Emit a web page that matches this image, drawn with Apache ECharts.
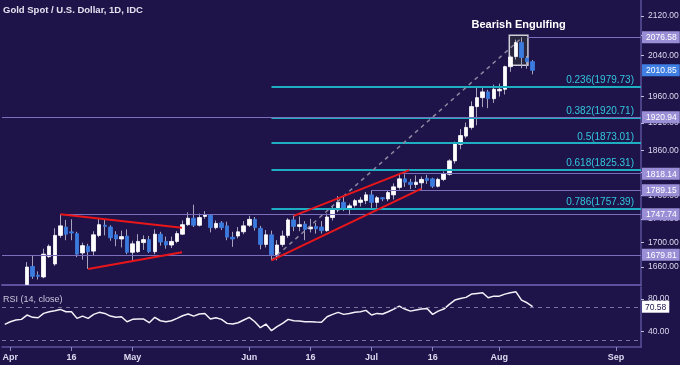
<!DOCTYPE html>
<html>
<head>
<meta charset="utf-8">
<script src="https://cdn.jsdelivr.net/npm/echarts@6/dist/echarts.min.js"></script>
<style>html,body{margin:0;padding:0;background:#1f1449;}#c{width:680px;height:365px;}</style>
</head>
<body>
<div id="c"></div>
<script>
// ---------- data ----------
const tradingDays = [];
for (let t = Date.UTC(2020, 2, 31); t <= Date.UTC(2020, 8, 7); t += 86400000) {
  const d = new Date(t), w = d.getUTCDay();
  if (w !== 0 && w !== 6) tradingDays.push(d.toISOString().slice(0, 10));
}
const xTickDates = ['2020-04-01','2020-04-16','2020-05-01','2020-06-01','2020-06-16','2020-07-01','2020-07-16','2020-08-03','2020-09-01'];
const xTickLabels = ['Apr','16','May','Jun','16','Jul','16','Aug','Sep'];

const openP = [null,null,null,null,
 1632,1661,1647,1644,1677,1665,1712,1726,1718,1715,
 1683,1694,1686,1712,1729,1726,1713,1706,1711,1684,
 1685,1700,1705,1685,1714,1702,1696,1702,1714,1730,
 1741,1729,1744,1746,1725,1733,1728,1709,1711,1718,
 1729,1739,1724,1697,1713,1678,1697,1712,1738,1727,
 1731,1723,1727,1726,1720,1742,1755,1768,1758,1763,
 1768,1771,1781,1768,1776,1774,1781,1794,1809,1803,
 1799,1802,1810,1809,1796,1808,1817,1841,1871,1886,
 1902,1941,1958,1969,1956,1971,1974,2018,2038,2066,
 2035,2028];
const highP = [null,null,null,null,
 1668,1678,1653,1690,1697,1724,1748,1738,1739,1718,
 1700,1698,1719,1740,1738,1729,1719,1720,1722,1703,
 1714,1712,1711,1722,1718,1710,1710,1719,1737,1751,
 1764,1749,1753,1748,1737,1736,1735,1718,1726,1736,
 1745,1743,1728,1721,1720,1704,1720,1741,1745,1744,
 1736,1740,1733,1736,1749,1761,1779,1779,1766,1774,
 1777,1786,1789.15,1779,1777,1789,1801,1818.14,1817,1809,
 1815,1813,1816,1811,1811,1822,1844,1876,1899,1911,
 1951,1980,1980,1973,1983,1985,2020,2040,2072,2076.58,
 2039,2031];
const lowP = [null,null,null,null,
 1631.5,1641,1640,1642,1675,1662,1708,1704,1704,1676,
 1672,1657,1679,1709,1712,1703,1694,1692,1681,1669,
 1683,1688,1683,1681,1695,1690,1691,1699,1713,1728,
 1726,1727,1740,1717,1722,1721,1704,1693,1707,1714,
 1726,1720,1689,1692,1670.89,1671,1693,1708,1719,1719,
 1704,1717,1715,1715,1718,1737,1751,1753,1746,1759,
 1761,1765,1757,1759,1770,1770,1773,1790,1795,1791,
 1793,1789,1800,1793,1794,1805,1815,1836,1862,1882,
 1898,1906,1940,1938,1948,1960,1964,2008,2032,2015,
 2014,2003];
const closeP = [null,null,null,null,
 1660,1645,1645,1681,1694,1712,1728,1714,1716,1681,
 1695,1685,1713,1730,1727,1708,1706,1710,1684,1698,
 1702,1705,1685,1714,1701,1696,1702,1715,1730,1741,
 1729,1742,1747,1725,1732,1725,1709,1706,1718,1728,
 1739,1725,1697,1713,1680,1696,1711,1738,1727,1730,
 1722,1726,1723,1720,1743,1755,1768,1758,1762,1771,
 1772,1781,1768,1776,1774,1785,1795,1809,1803,1799,
 1803,1808,1806,1796,1808,1818,1841,1872,1887,1902,
 1941,1958,1969,1956,1974,1974,2018,2037,2066,2036,
 2028,2010.85];
const rsi14 = [
 49,52.2,54.3,55.1,60.4,57.6,57.1,62.4,64.4,65.6,
 67.3,64.4,64.4,56.3,59.1,56.3,61.2,63.7,62.4,59.1,
 57.6,58.3,52.2,55.1,55.5,55.5,51,57.6,53.4,52.2,
 53.4,56.3,59.5,61.6,59.1,61.6,62.4,55.5,57.1,55.1,
 50.2,49.4,51,54.3,57.6,52.2,44.9,49.4,41.2,46.1,
 50.2,55.1,53.4,53,52.2,52.2,51.8,51.5,58.3,61.2,
 63.7,61.2,62.4,63.7,64.4,66.1,60.4,62.4,61.6,64.4,
 67.7,71.3,67.7,65.2,66.5,67.7,68.5,61.2,65.2,67.7,
 73.4,78.7,80.7,82,86,86.8,87.6,81.5,83.5,83.5,
 86,87.6,88.8,78.7,75.4,70.58];

const priceTicks = [2120,2080,2040,1960,1910,1860,1820,1780,1740,1700,1660];
const priceRange = [1631.2, 2153.5];
const lastPrice = 2010.85;
const levelPrices = [2076.58, 1920.94, 1818.14, 1789.15, 1747.74, 1679.81];
const levelFrom = ['2020-08-10', null, '2020-07-08', '2020-07-01', '2020-04-14', null];
const fibRatios = ['0.236','0.382','0.5','0.618','0.786'];
const fibPrices = [1979.73, 1920.71, 1873.01, 1825.31, 1757.39];
const fibFrom = '2020-06-05';
const fibAnchor = [[48, 1670.89], [93, 2075.13]]; // [bar index, price]
const trendLines = [
  [[10, 1747.74], [31.9, 1725]],
  [[15, 1656.7], [31.9, 1684]],
  [[48, 1670.89], [75, 1792]],
  [[52, 1745], [72.8, 1824.5]]
];
const engulfBox = {from: 90.8, to: 94.15, low: 2021, high: 2081};
const rsiTicks = [40, 80];
const rsiLevels = [70, 30];
const rsiLast = 70.58;
const rsiRange = [21.3, 94.7];

// ---------- build ----------
const L = Math.log;
const nBars = tradingDays.length;
const idx = d => tradingDays.indexOf(d);
const candleData = openP.map((o, i) => o == null ? '-' : [L(o), L(closeP[i]), L(lowP[i]), L(highP[i])]);
const bodyData = openP.map((o, i) => o == null ? '-' : [L(o), L(closeP[i]), L(Math.min(o, closeP[i])), L(Math.max(o, closeP[i]))]);
const levelAxisVals = [lastPrice].concat(levelPrices);

const fontF = 'Liberation Sans, Arial, sans-serif';
const frame = '#5b519c';
const axisTxt = '#dcdaf0';

const markLines = [];
fibPrices.forEach((p, k) => {
  markLines.push([
    {coord: [idx(fibFrom), L(p)], lineStyle: {color: '#1eaec2', width: 2, type: 'solid'},
     label: {show: true, position: 'insideEndTop', formatter: fibRatios[k] + '(' + p.toFixed(2) + ')',
       color: '#33c6de', fontSize: 10, fontFamily: fontF, distance: [7, 1]}},
    {coord: [nBars - 0.5, L(p)]}
  ]);
});
levelPrices.forEach((p, k) => {
  const s = levelFrom[k] ? idx(levelFrom[k]) : -0.5;
  markLines.push([
    {coord: [s, L(p)], lineStyle: {color: '#7a6fbc', width: 1.2, type: 'solid'}, label: {show: false}},
    {coord: [nBars - 0.5, L(p)]}
  ]);
});
markLines.push([
  {coord: [fibAnchor[0][0], L(fibAnchor[0][1])], lineStyle: {color: '#8b88a0', width: 1.5, type: [4, 4]}, label: {show: false}},
  {coord: [fibAnchor[1][0], L(fibAnchor[1][1])]}
]);

const redLines = trendLines.map(seg => [
  {coord: [seg[0][0], L(seg[0][1])], lineStyle: {color: '#e8161b', width: 2, type: 'solid'}, label: {show: false}},
  {coord: [seg[1][0], L(seg[1][1])]}
]);

const option = {
  backgroundColor: '#1f1449',
  animation: false,
  textStyle: {fontFamily: fontF},
  title: [
    {text: 'Gold Spot / U.S. Dollar, 1D, IDC', left: 3, top: 5, padding: 0,
     textStyle: {color: '#e4e2f0', fontSize: 9.5, fontWeight: 'bold', fontFamily: fontF}},
    {text: 'RSI (14, close)', left: 3, top: 295, padding: 0,
     textStyle: {color: '#c9c6dc', fontSize: 9, fontWeight: 'normal', fontFamily: fontF}}
  ],
  grid: [
    {left: 2, right: 39, top: 0, height: 285, outerBoundsMode: 'none', containLabel: false},
    {left: 2, right: 39, top: 287, height: 60, outerBoundsMode: 'none', containLabel: false}
  ],
  xAxis: [
    {type: 'category', gridIndex: 0, data: tradingDays, boundaryGap: true,
     axisLine: {show: true, onZero: false, lineStyle: {color: frame, width: 2}},
     axisTick: {show: false}, axisLabel: {show: false}, splitLine: {show: false}},
    {type: 'category', gridIndex: 1, data: tradingDays, boundaryGap: true,
     axisLine: {show: true, onZero: false, lineStyle: {color: frame, width: 1.5}},
     axisTick: {show: true, alignWithLabel: true, length: 4, lineStyle: {color: '#8d86bf'},
       interval: (i, v) => xTickDates.includes(v)},
     axisLabel: {interval: (i, v) => xTickDates.includes(v),
       formatter: v => xTickLabels[xTickDates.indexOf(v)],
       color: axisTxt, fontSize: 9, fontWeight: 'bold', margin: 6},
     splitLine: {show: false}},
    {type: 'value', gridIndex: 0, min: -0.5, max: nBars - 0.5, show: false}
  ],
  yAxis: [
    {type: 'value', gridIndex: 0, position: 'right', min: L(priceRange[0]), max: L(priceRange[1]),
     axisLine: {show: true, onZero: false, lineStyle: {color: frame, width: 1.5}},
     axisTick: {show: true, length: 3, customValues: priceTicks.map(L), lineStyle: {color: '#c0bdd8'}},
     axisLabel: {customValues: priceTicks.map(L), formatter: v => Math.exp(v).toFixed(2),
       color: axisTxt, fontSize: 8.5, margin: 7},
     splitLine: {show: false}},
    {type: 'value', gridIndex: 0, position: 'right', min: L(priceRange[0]), max: L(priceRange[1]), z: 5,
     axisLine: {show: false, onZero: false}, axisTick: {show: false},
     axisLabel: {customValues: levelAxisVals.map(L), margin: 1,
       formatter: v => { const p = Math.exp(v); const t = p.toFixed(2);
         return Math.abs(p - lastPrice) < 0.01 ? '{b|' + t + '}' : '{p|' + t + '}'; },
       rich: {
         p: {backgroundColor: '#9a8fd6', color: '#ffffff', fontSize: 8.5, padding: [2, 3, 1, 4], fontFamily: fontF},
         b: {backgroundColor: '#3f7fe3', color: '#ffffff', fontSize: 8.5, padding: [2, 3, 1, 4], fontFamily: fontF}
       }},
     splitLine: {show: false}},
    {type: 'value', gridIndex: 1, position: 'right', min: rsiRange[0], max: rsiRange[1],
     axisLine: {show: true, onZero: false, lineStyle: {color: frame, width: 1.5}},
     axisTick: {show: true, length: 3, customValues: rsiTicks, lineStyle: {color: '#c0bdd8'}},
     axisLabel: {customValues: rsiTicks, formatter: v => v.toFixed(2), color: axisTxt, fontSize: 8.5, margin: 7},
     splitLine: {show: false}},
    {type: 'value', gridIndex: 1, position: 'right', min: rsiRange[0], max: rsiRange[1], z: 5,
     axisLine: {show: false, onZero: false}, axisTick: {show: false},
     axisLabel: {customValues: [rsiLast], margin: 1, formatter: v => '{w|' + v.toFixed(2) + '}',
       rich: {w: {backgroundColor: '#ffffff', color: '#1f1449', fontSize: 8.5, padding: [2, 3, 1, 3], fontFamily: fontF}}},
     splitLine: {show: false}}
  ],
  series: [
    {type: 'line', xAxisIndex: 2, yAxisIndex: 0, data: [], z: 1, silent: true,
     markLine: {symbol: 'none', silent: true, animation: false, data: markLines},
     markArea: {silent: true, data: [[
       {coord: [engulfBox.from, L(engulfBox.low)],
        itemStyle: {color: 'rgba(45,42,62,0.85)', borderColor: '#cfcfd8', borderWidth: 1.5},
        label: {show: true, position: 'top', formatter: 'Bearish Engulfing', color: '#ffffff',
          fontSize: 11, fontWeight: 'bold', distance: 4, fontFamily: fontF}},
       {coord: [engulfBox.to, L(engulfBox.high)]}
     ]]}},
    {type: 'candlestick', name: 'wick', xAxisIndex: 0, yAxisIndex: 0, data: candleData, z: 3,
     barWidth: 1, clip: true, silent: true,
     itemStyle: {color: '#a6a3bf', color0: '#a6a3bf', borderColor: '#a6a3bf', borderColor0: '#a6a3bf', borderWidth: 1}},
    {type: 'candlestick', name: 'body', xAxisIndex: 0, yAxisIndex: 0, data: bodyData, z: 4,
     barWidth: 4, barMinWidth: 4, clip: true, silent: true,
     itemStyle: {color: '#ffffff', color0: '#3b7be0', borderColor: '#ffffff', borderColor0: '#3b7be0', borderWidth: 0.8}},
    {type: 'line', xAxisIndex: 2, yAxisIndex: 0, data: [], z: 6, silent: true,
     markLine: {symbol: 'none', silent: true, animation: false, data: redLines}},
    {type: 'line', xAxisIndex: 1, yAxisIndex: 2, data: rsi14, symbol: 'none', z: 3, silent: true,
     lineStyle: {color: '#f2f2f8', width: 1.5},
     markLine: {symbol: 'none', silent: true, label: {show: false},
       lineStyle: {type: [4, 4], color: '#77729c', width: 1},
       data: rsiLevels.map(v => ({yAxis: v}))}}
  ]
};
const chart = echarts.init(document.getElementById('c'), null, {renderer: 'canvas'});
chart.setOption(option);
</script>
</body>
</html>
